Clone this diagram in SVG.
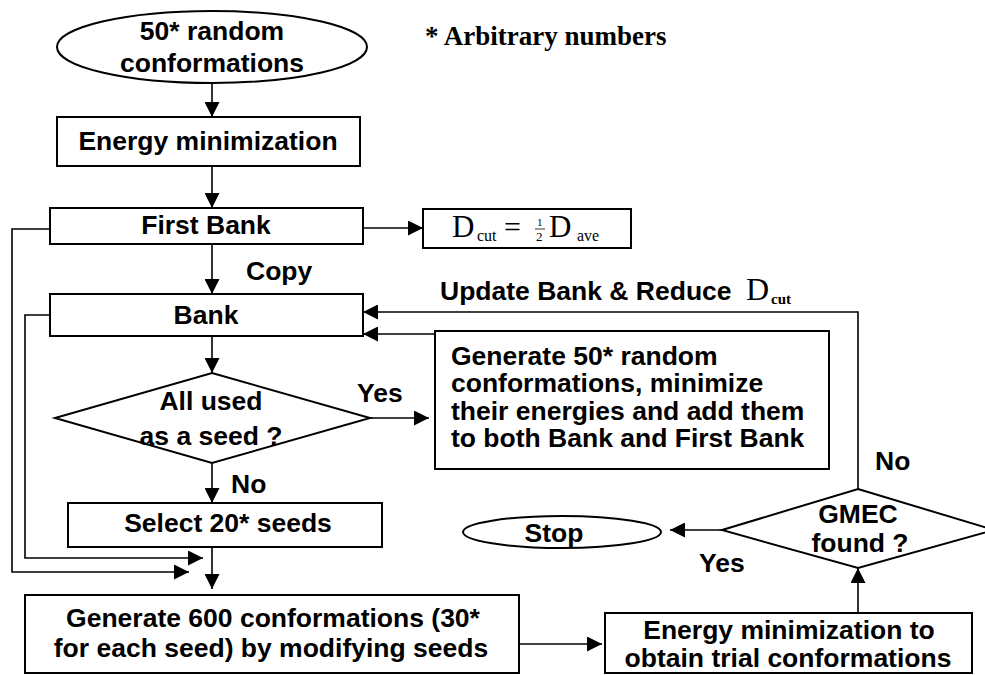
<svg xmlns="http://www.w3.org/2000/svg" width="985" height="675" viewBox="0 0 985 675">
<defs>
<marker id="ah" viewBox="0 0 10 10" refX="10" refY="5" markerWidth="16" markerHeight="15" markerUnits="userSpaceOnUse" orient="auto">
<path d="M0,0 L10,5 L0,10 z" fill="#000"/>
</marker>
<style>
.shape{fill:#fff;stroke:#000;stroke-width:2}
.t{font-family:"Liberation Sans",Arial,sans-serif;font-weight:bold;font-size:26.5px;fill:#000}
.c{text-anchor:middle}
.ser{font-family:"Liberation Serif","Times New Roman",serif;fill:#000}
.conn path{fill:none;stroke:#000;stroke-width:1.6;marker-end:url(#ah)}
</style>
</defs>
<rect width="985" height="675" fill="#fff"/>

<g id="connectors" class="conn">
<path d="M212,83 L212,117"/>
<path d="M212,166 L212,208"/>
<path d="M363,228 L423,228"/>
<path d="M212,244 L212,294"/>
<path d="M212,336 L212,373"/>
<path d="M370,418 L429,418"/>
<path d="M212,463 L212,503"/>
<path d="M212,547 L212,589"/>
<path d="M50,229 L12,229 L12,572 L189,572"/>
<path d="M50,315 L25,315 L25,558 L203,558"/>
<path d="M519,644 L602,644"/>
<path d="M858,613 L858,568"/>
<path d="M722,530 L670,530"/>
<path d="M858,489 L858,312 L363,312"/>
<path d="M435,334 L363,334"/>
</g>

<g id="start">
<ellipse class="shape" cx="212" cy="47" rx="155" ry="36"/>
<text class="t c" x="212" y="40">50* random</text>
<text class="t c" x="212" y="72">conformations</text>
</g>

<g id="note">
<text class="ser" x="425" y="45" font-size="27" font-weight="bold">* Arbitrary numbers</text>
</g>

<g id="energy-min">
<rect class="shape" x="57" y="117" width="303" height="49"/>
<text class="t c" x="208" y="150">Energy minimization</text>
</g>

<g id="first-bank">
<rect class="shape" x="50" y="208" width="313" height="36"/>
<text class="t c" x="206" y="234">First Bank</text>
</g>

<g id="dcut">
<rect class="shape" x="423" y="209" width="208" height="39"/>
<text class="ser" x="452" y="237" font-size="31">D</text>
<text class="ser" x="477" y="241" font-size="16">cut</text>
<text class="ser" x="504" y="237" font-size="30">=</text>
<text class="ser" x="537" y="226" font-size="11">1</text>
<line x1="535" y1="229" x2="545" y2="229" stroke="#000" stroke-width="0.8"/>
<text class="ser" x="536" y="241" font-size="13">2</text>
<text class="ser" x="549" y="237" font-size="31">D</text>
<text class="ser" x="577" y="241" font-size="16">ave</text>
</g>

<g id="copy-label">
<text class="t" x="246" y="280">Copy</text>
</g>

<g id="bank">
<rect class="shape" x="50" y="294" width="313" height="42"/>
<text class="t c" x="206" y="324">Bank</text>
</g>

<g id="update-label">
<text class="t" x="440" y="300">Update Bank &amp; Reduce</text>
<text class="ser" x="746" y="300" font-size="32">D</text>
<text class="ser" x="771" y="304" font-size="15" font-weight="bold">cut</text>
</g>

<g id="all-used">
<polygon class="shape" points="212,373 370,418 212,463 55,418"/>
<text class="t c" x="211" y="410">All used</text>
<text class="t c" x="211" y="445">as a seed ?</text>
</g>

<g id="yes1">
<text class="t" x="357" y="402">Yes</text>
</g>

<g id="generate50">
<rect class="shape" x="435" y="331" width="394" height="138"/>
<text class="t" x="451" y="365">Generate 50* random</text>
<text class="t" x="451" y="392">conformations, minimize</text>
<text class="t" x="451" y="420">their energies and add them</text>
<text class="t" x="451" y="447">to both Bank and First Bank</text>
</g>

<g id="no1">
<text class="t" x="231" y="493">No</text>
</g>

<g id="no2">
<text class="t" x="875" y="470">No</text>
</g>

<g id="select">
<rect class="shape" x="68" y="503" width="314" height="44"/>
<text class="t c" x="228" y="532">Select 20* seeds</text>
</g>

<g id="stop">
<ellipse class="shape" cx="562" cy="532" rx="99" ry="16"/>
<text class="t c" x="554" y="542">Stop</text>
</g>

<g id="gmec">
<polygon class="shape" points="858,489 994,530 858,568 722,530"/>
<text class="t c" x="858" y="523">GMEC</text>
<text class="t c" x="860" y="552">found ?</text>
</g>

<g id="yes2">
<text class="t" x="699" y="572">Yes</text>
</g>

<g id="generate600">
<rect class="shape" x="25" y="595" width="494" height="78"/>
<text class="t c" x="273" y="627">Generate 600 conformations (30*</text>
<text class="t c" x="271" y="657">for each seed) by modifying seeds</text>
</g>

<g id="energy-trial">
<rect class="shape" x="605" y="613" width="367" height="60"/>
<text class="t c" x="789" y="639">Energy minimization to</text>
<text class="t c" x="788" y="667">obtain trial conformations</text>
</g>
</svg>
